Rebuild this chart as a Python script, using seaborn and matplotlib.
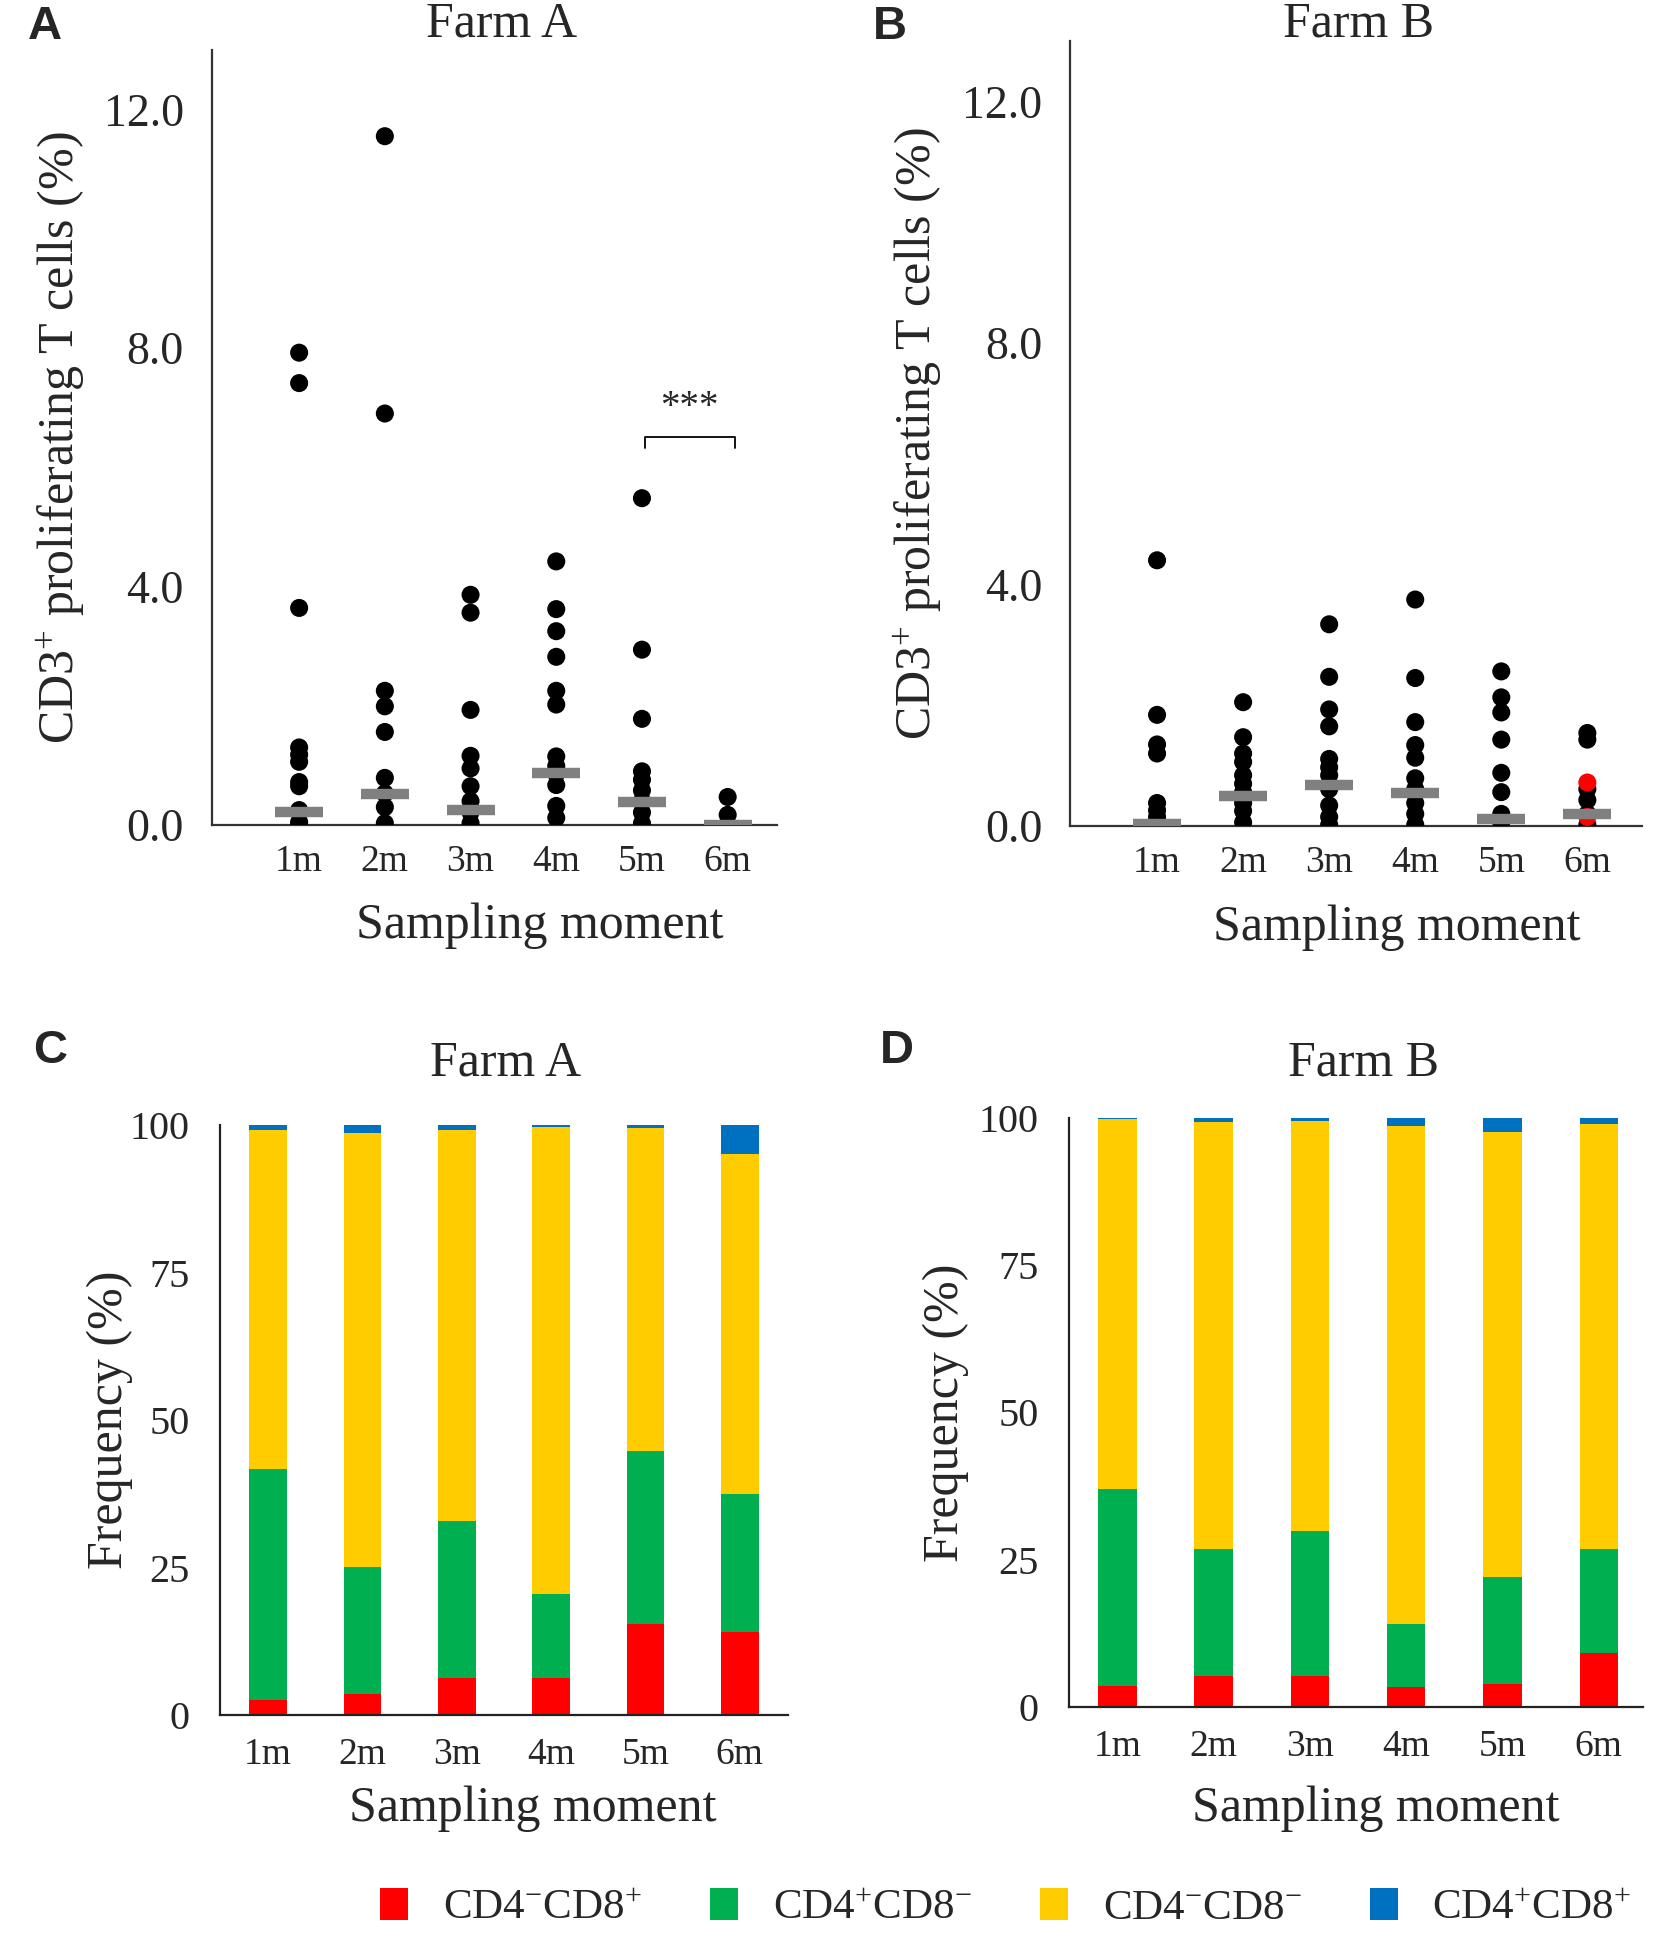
import matplotlib
matplotlib.use("Agg")
import matplotlib.pyplot as plt
from matplotlib.patches import Patch
import numpy as np
import pandas as pd
import seaborn as sns

MONTHS = ["1m", "2m", "3m", "4m", "5m", "6m"]

# CD3+ proliferating T cells (%) per sampling moment
farm_a_points = {
    "1m": [7.92, 7.41, 3.64, 1.30, 1.18, 1.06, 0.72, 0.65, 0.25, 0.05, 0.0],
    "2m": [11.55, 6.90, 2.25, 1.99, 1.56, 0.79, 0.53, 0.30, 0.03],
    "3m": [3.86, 3.56, 1.93, 1.16, 0.95, 0.65, 0.40, 0.21, 0.03],
    "4m": [4.42, 3.62, 3.25, 2.82, 2.25, 2.02, 1.15, 0.99, 0.86, 0.67, 0.32, 0.12],
    "5m": [5.48, 2.94, 1.78, 0.90, 0.76, 0.58, 0.40, 0.21, 0.03],
    "6m": [0.47, 0.17, 0.0],
}
farm_b_points = {
    "1m": [4.40, 1.84, 1.35, 1.20, 0.38, 0.26, 0.15, 0.02],
    "2m": [2.05, 1.47, 1.20, 1.06, 0.84, 0.70, 0.56, 0.38, 0.25, 0.06],
    "3m": [3.34, 2.47, 1.93, 1.65, 1.11, 0.97, 0.84, 0.61, 0.34, 0.15, 0.02],
    "4m": [3.75, 2.45, 1.72, 1.34, 1.13, 0.79, 0.61, 0.38, 0.20, 0.02],
    "5m": [2.56, 2.13, 1.88, 1.43, 0.88, 0.56, 0.20, 0.06],
    "6m": [1.54, 1.43, 0.61, 0.43, 0.20, 0.02],
}
farm_b_red_points = {"6m": [0.72, 0.15]}

farm_a_medians = [0.22, 0.52, 0.25, 0.87, 0.38, 0.0]
farm_b_medians = [0.04, 0.49, 0.68, 0.55, 0.11, 0.20]

# Frequency (%) of subsets among proliferating cells
SUBSETS = ["CD4$^{-}$CD8$^{+}$", "CD4$^{+}$CD8$^{-}$", "CD4$^{-}$CD8$^{-}$", "CD4$^{+}$CD8$^{+}$"]
SUBSET_COLORS = ["#FF0000", "#00B050", "#FFCC00", "#0070C0"]

farm_a_cd8 = [2.5, 3.5, 6.3, 6.3, 15.4, 14.1]
farm_a_cd4 = [39.2, 21.6, 26.6, 14.3, 29.3, 23.3]
farm_a_dn = [57.5, 73.6, 66.2, 79.1, 54.8, 57.7]
farm_a_dp = [0.8, 1.3, 0.9, 0.3, 0.5, 4.9]

farm_b_cd8 = [3.6, 5.2, 5.2, 3.3, 3.9, 9.1]
farm_b_cd4 = [33.4, 21.6, 24.6, 10.7, 18.1, 17.7]
farm_b_dn = [62.9, 72.5, 69.7, 84.6, 75.6, 72.1]
farm_b_dp = [0.1, 0.7, 0.5, 1.4, 2.4, 1.1]

SERIF = "Liberation Serif"


def points_frame(points: dict, red: dict) -> pd.DataFrame:
    rows = []
    for m, vals in points.items():
        rows += [{"month": m, "value": v, "kind": "black"} for v in vals]
    for m, vals in red.items():
        rows += [{"month": m, "value": v, "kind": "red"} for v in vals]
    return pd.DataFrame(rows)


def dot_panel(ax, df, medians, xlim):
    sns.stripplot(data=df, x="month", y="value", hue="kind", order=MONTHS,
                  hue_order=["black", "red"], palette={"black": "black", "red": "red"},
                  jitter=False, size=13, linewidth=0, legend=False, ax=ax, zorder=3)
    x = np.arange(len(MONTHS))
    ax.hlines(medians, x - 0.28, x + 0.28, color="#808080", linewidth=7.5, zorder=4)
    ax.set_ylim(0, 13)
    ax.set_xlim(*xlim)
    ax.set_yticks([0, 4, 8, 12])
    ax.set_yticklabels(["0.0", "4.0", "8.0", "12.0"], fontsize=33)
    ax.tick_params(axis="y", length=0, pad=20)
    ax.tick_params(axis="x", length=0, pad=14, labelsize=27)
    ax.set_ylabel("CD3$^{+}$ proliferating T cells (%)", fontsize=36)
    ax.set_xlabel("Sampling moment", fontsize=36)
    for s in ["left", "bottom"]:
        ax.spines[s].set_color("#333333")
        ax.spines[s].set_linewidth(1.6)
    sns.despine(ax=ax)


def bar_panel(ax, parts, xlim):
    cum = np.cumsum(np.array(parts), axis=0)
    # draw cumulative totals from the top layer down so lower layers sit in front
    for i in range(len(parts) - 1, -1, -1):
        sns.barplot(x=MONTHS, y=cum[i], color=SUBSET_COLORS[i], width=0.4,
                    saturation=1, linewidth=0, ax=ax)
    ax.set_ylim(0, 100)
    ax.set_xlim(*xlim)
    ax.set_yticks([0, 25, 50, 75, 100])
    ax.set_yticklabels(["0", "25", "50", "75", "100"], fontsize=29)
    ax.tick_params(axis="y", length=0, pad=22)
    ax.tick_params(axis="x", length=0, pad=16, labelsize=27)
    ax.set_ylabel("Frequency (%)", fontsize=36)
    ax.set_xlabel("Sampling moment", fontsize=36)
    for s in ["left", "bottom"]:
        ax.spines[s].set_color("#222222")
        ax.spines[s].set_linewidth(1.6)
    sns.despine(ax=ax)


sns.set_theme(style="white")
plt.rcParams["font.family"] = [SERIF, "DejaVu Serif"]
plt.rcParams["mathtext.fontset"] = "custom"
plt.rcParams["mathtext.rm"] = SERIF
plt.rcParams["mathtext.it"] = SERIF + ":italic"
plt.rcParams["mathtext.bf"] = SERIF + ":bold"

fig = plt.figure(figsize=(16.54, 19.43), dpi=100)
axA = fig.add_axes([0.128, 0.5754, 0.342, 0.399])
axB = fig.add_axes([0.647, 0.5749, 0.346, 0.404])
axC = fig.add_axes([0.133, 0.1173, 0.3434, 0.3037])
axD = fig.add_axes([0.6464, 0.1215, 0.3470, 0.3031])

dot_panel(axA, points_frame(farm_a_points, {}), farm_a_medians, (-1.02, 5.58))
dot_panel(axB, points_frame(farm_b_points, farm_b_red_points), farm_b_medians, (-1.01, 5.64))

# significance bracket 5m vs 6m on farm A
axA.plot([4.03, 4.03, 5.08, 5.08], [6.33, 6.51, 6.51, 6.33], color="black", linewidth=1.3)
axA.text(4.55, 7.0, "***", ha="center", va="center", fontsize=28)

bar_panel(axC, [farm_a_cd8, farm_a_cd4, farm_a_dn, farm_a_dp], (-0.51, 5.51))
bar_panel(axD, [farm_b_cd8, farm_b_cd4, farm_b_dn, farm_b_dp], (-0.50, 5.46))

axA.yaxis.set_label_coords(-0.219, 0.5)
axB.yaxis.set_label_coords(-0.219, 0.5)
axC.yaxis.set_label_coords(-0.154, 0.5)
axD.yaxis.set_label_coords(-0.175, 0.5)
axA.xaxis.set_label_coords(0.58, -0.10)
axB.xaxis.set_label_coords(0.57, -0.10)
axC.xaxis.set_label_coords(0.55, -0.12)
axD.xaxis.set_label_coords(0.535, -0.134)

W, H = 1654, 1943
for x, y, t in [(502, 24, "Farm A"), (1359, 24, "Farm B"), (506, 1063, "Farm A"), (1364, 1063, "Farm B")]:
    fig.text(x / W, 1 - y / H, t, ha="center", va="center", fontsize=36)
for x, y, t in [(45, 27, "A"), (890, 27, "B"), (50, 1051, "C"), (897, 1051, "D")]:
    fig.text(x / W, 1 - y / H, t, ha="center", va="center", fontsize=34,
             fontweight="bold", family="Liberation Sans")

handles = [Patch(facecolor=c, edgecolor="none") for c in SUBSET_COLORS]
fig.legend(handles, SUBSETS, loc="center", bbox_to_anchor=(0.608, 1 - 1908 / H), ncol=4,
           frameon=False, fontsize=31, handlelength=0.65, handleheight=0.75,
           handletextpad=0.8, columnspacing=1.6)

fig.savefig("out.png", dpi=100)
